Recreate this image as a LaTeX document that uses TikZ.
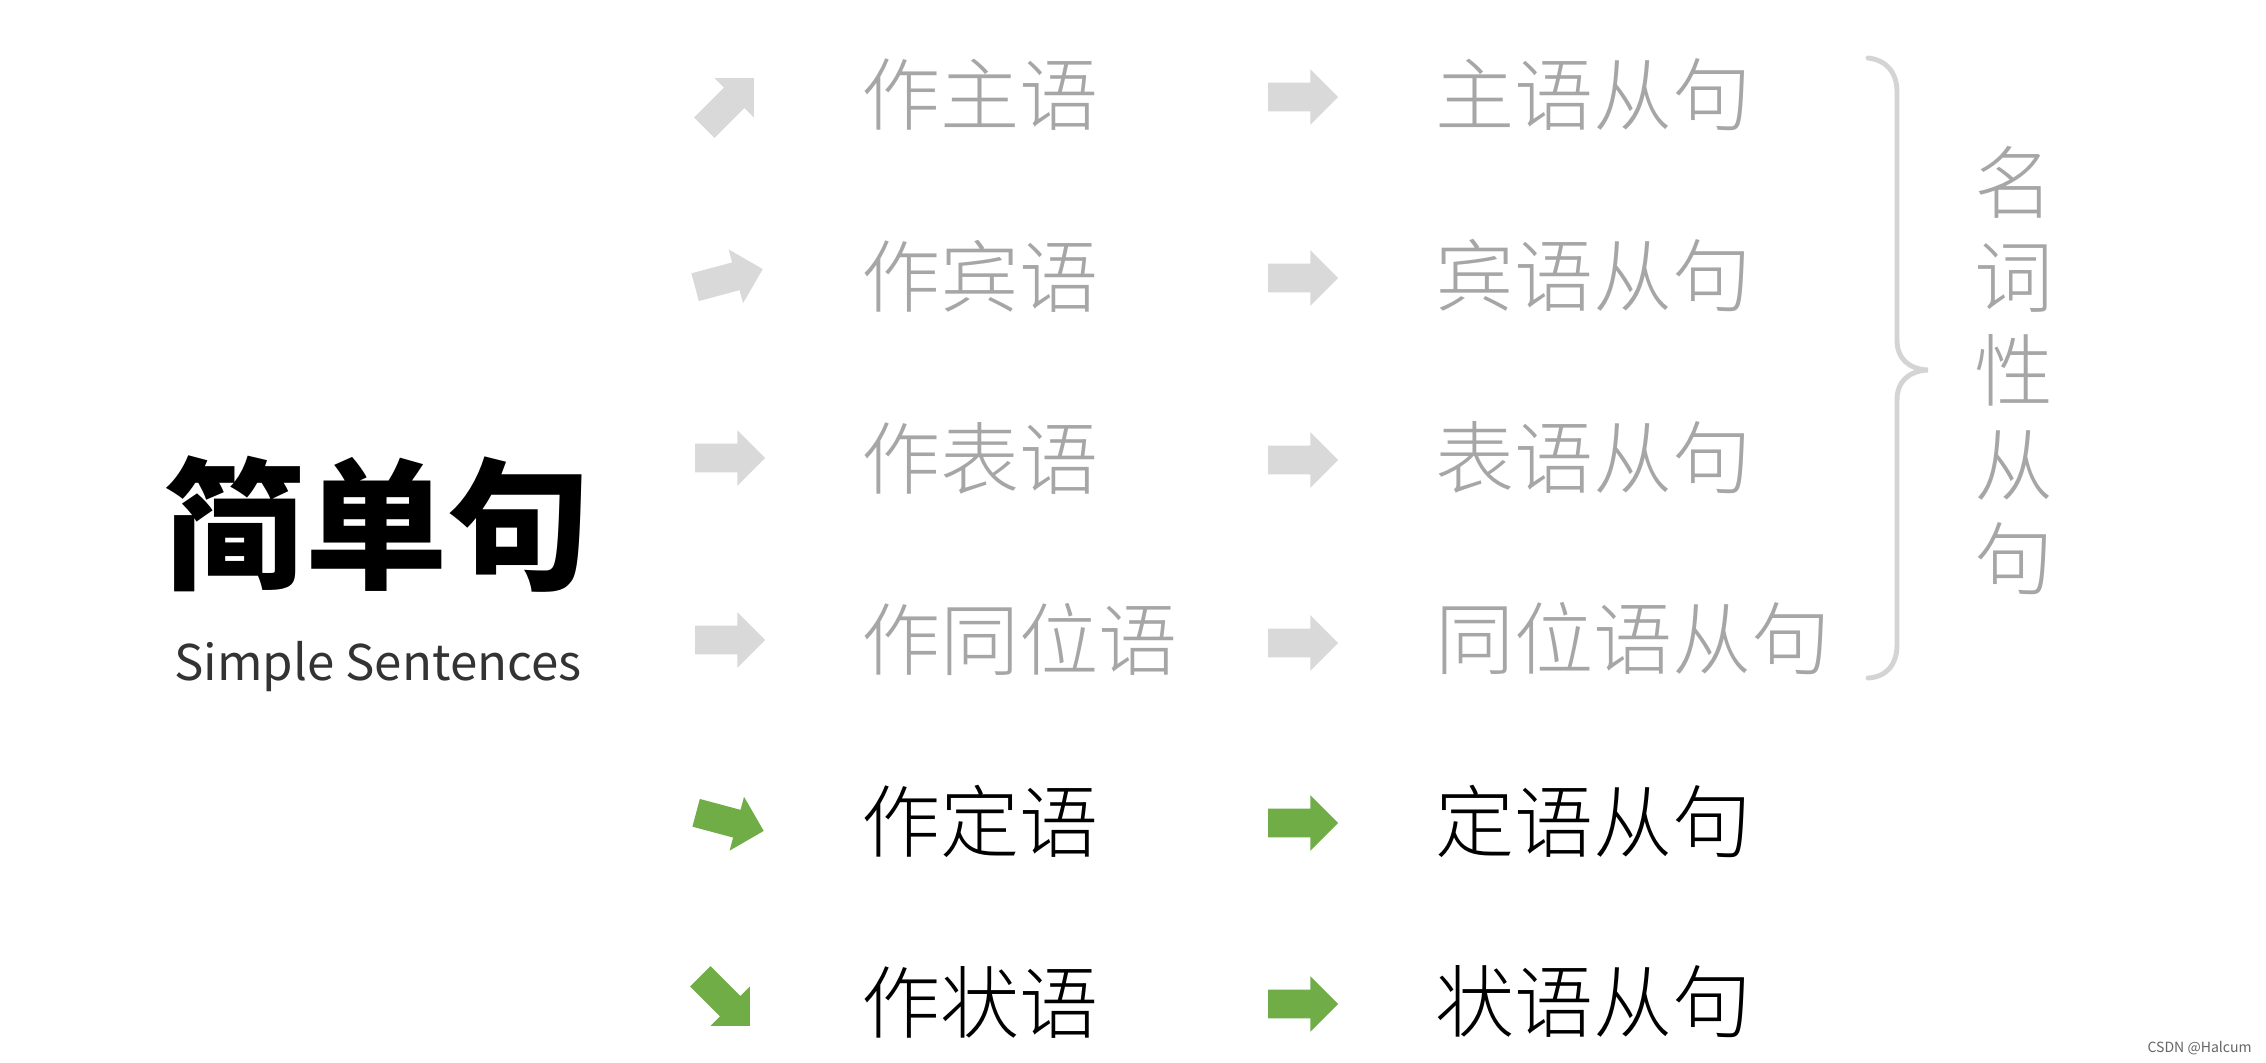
\documentclass[tikz,border=0pt]{standalone}
\usepackage{fontspec}
\setmainfont{Noto Sans CJK SC}
\newfontfamily\cjklight{Noto Sans CJK SC Light}
\newfontfamily\cjkblack{Noto Sans CJK SC Black}
\usepackage{tikz}
\usetikzlibrary{shapes.arrows, positioning}
\definecolor{softgray}{HTML}{D9D9D9}
\definecolor{textgray}{HTML}{A6A6A6}
\definecolor{bracegray}{HTML}{D4D4D4}
\definecolor{officegreen}{HTML}{70AD47}

\begin{document}
\begin{tikzpicture}[x=0.02cm, y=-0.02cm,
    blockarrow/.style={single arrow, draw=none, fill=softgray, minimum height=1.4cm, inner xsep=0pt, inner ysep=0.28cm, single arrow head extend=0.27cm},
    greenarrow/.style={blockarrow, fill=officegreen},
    item/.style={anchor=west, inner sep=0pt, text=textgray, font=\cjklight\fontsize{45}{52}\selectfont},
    mainitem/.style={item, text=black}]

    \useasboundingbox[fill=white] (0,0) rectangle (2266,1062);

    % left title
    \node [inner sep=0pt, font=\cjkblack\fontsize{81}{90}\selectfont] (title) at (377,524) {简单句};
    \node [anchor=base, inner sep=0pt, text=black!80, font=\fontsize{28}{32}\selectfont] (subtitle) at (378,680) {Simple Sentences};

    % first column: arrows
    \node [blockarrow, rotate=45] (a1) at (724,108) {};
    \node [blockarrow, rotate=15] (a2) at (722,280) {};
    \node [blockarrow] (a3) at (723,458) {};
    \node [blockarrow] (a4) at (723,640) {};
    \node [greenarrow, rotate=-15] (a5) at (723,820) {};
    \node [greenarrow, rotate=-45] (a6) at (720,996) {};

    % first column: functions
    \node [item] (subj) at (861,95) {作主语};
    \node [item] (obj) at (861,276) {作宾语};
    \node [item] (pred) at (861,458) {作表语};
    \node [item] (appo) at (861,639) {作同位语};
    \node [mainitem] (attr) at (861,821) {作定语};
    \node [mainitem] (adv) at (861,1002) {作状语};

    % second column: arrows
    \node [blockarrow] (b1) at (1296,97) {};
    \node [blockarrow] (b2) at (1296,278) {};
    \node [blockarrow] (b3) at (1296,460) {};
    \node [blockarrow] (b4) at (1296,643) {};
    \node [greenarrow] (b5) at (1296,823) {};
    \node [greenarrow] (b6) at (1296,1004) {};

    % second column: clauses
    \node [item] (subjcl) at (1435,95) {主语从句};
    \node [item] (objcl) at (1435,276) {宾语从句};
    \node [item] (predcl) at (1435,458) {表语从句};
    \node [item] (appocl) at (1435,639) {同位语从句};
    \node [mainitem] (attrcl) at (1435,821) {定语从句};
    \node [mainitem] (advcl) at (1435,1002) {状语从句};

    % brace and group label
    \draw [bracegray, line width=2.8pt, line cap=round]
        (1868,58) .. controls (1886,60) and (1897,72) .. (1897,92) -- (1897,340)
        .. controls (1897,358) and (1908,369) .. (1928,370)
        .. controls (1908,371) and (1897,382) .. (1897,400) -- (1897,645)
        .. controls (1897,665) and (1886,677) .. (1868,678);
    \node [inner sep=0pt, align=center, text=textgray, font=\cjklight\fontsize{45}{53.5}\selectfont] (nominal) at (2014,371) {名\\词\\性\\从\\句};

    \node [anchor=east, inner sep=0pt, text=black!60, font=\fontsize{8}{9}\selectfont] (mark) at (2252,1048) {CSDN @Halcum};
\end{tikzpicture}
\end{document}
